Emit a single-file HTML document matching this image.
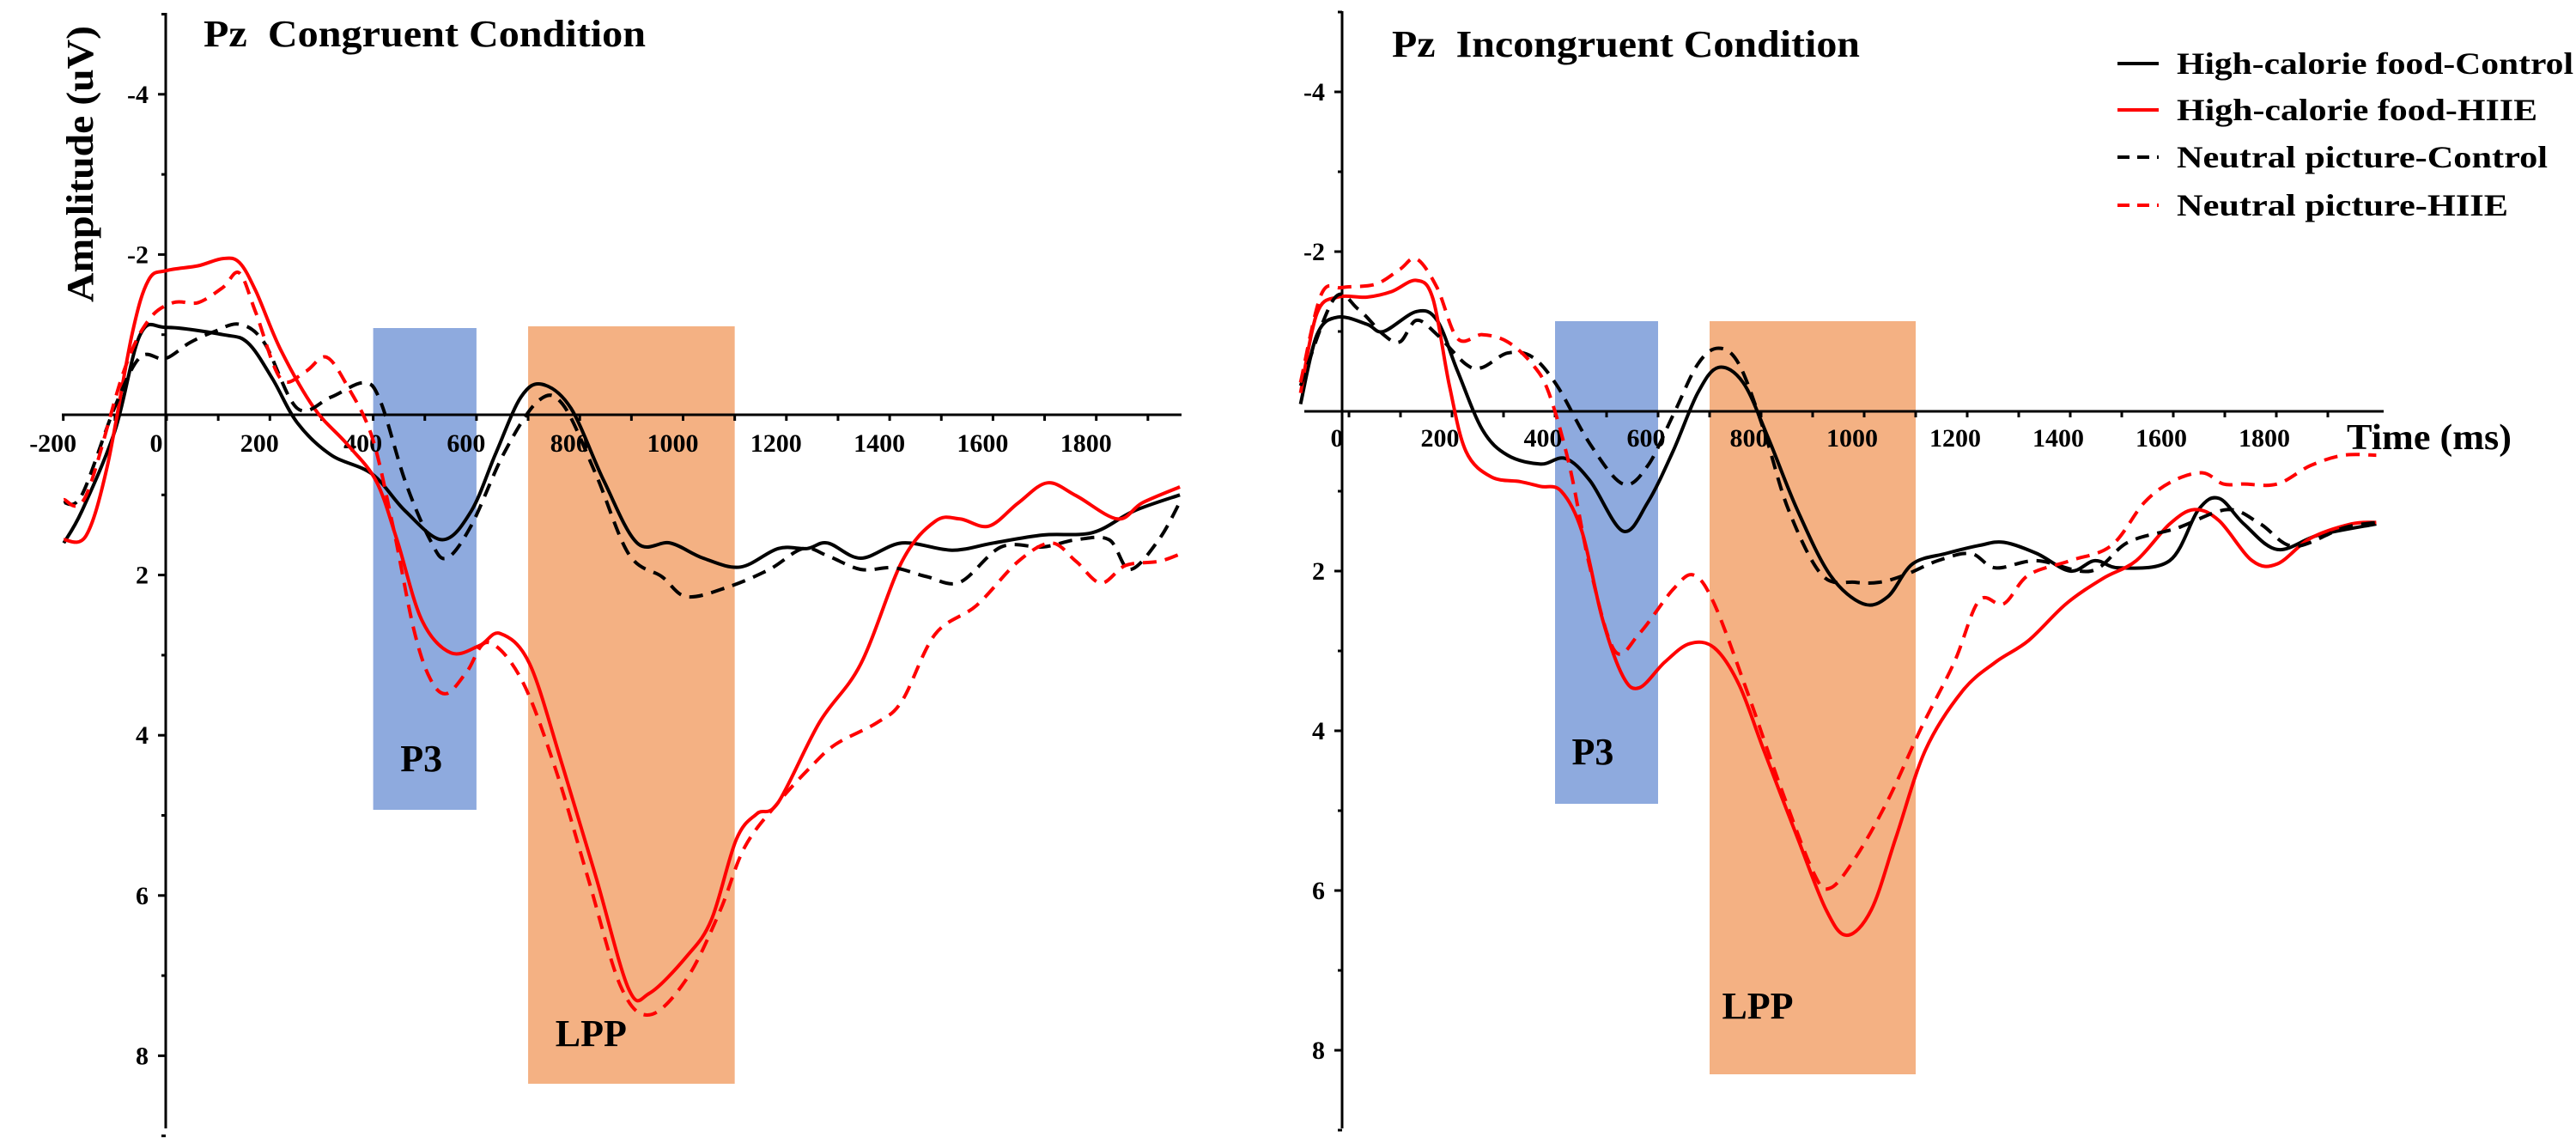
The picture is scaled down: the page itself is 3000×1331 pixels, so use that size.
<!DOCTYPE html>
<html><head><meta charset="utf-8"><style>
html,body{margin:0;padding:0;background:#fff;}
svg{display:block;}
text{font-family:"Liberation Serif",serif;font-weight:bold;fill:#000;white-space:pre;}
</style></head><body>
<svg id="chart" width="3000" height="1331" viewBox="0 0 3000 1331" xmlns="http://www.w3.org/2000/svg" xml:space="preserve"></svg>
<script>
// ---------- data ----------
const yTicks = [-4, -2, 2, 4, 6, 8];
const xTicksLeft = [-200, 0, 200, 400, 600, 800, 1000, 1200, 1400, 1600, 1800];
const xTicksRight = [0, 200, 400, 600, 800, 1000, 1200, 1400, 1600, 1800];
const windowsMs = [[400, 600], [700, 1100]];
const windowNames = ["P3", "LPP"];
const seriesNames = ["High-calorie food-Control", "High-calorie food-HIIE", "Neutral picture-Control", "Neutral picture-HIIE"];

// Congruent (left)
const cHCCtrlT = [-199,-164,-100,-51,0,109,157,205,253,318,398,462,534,590,638,686,727,783,847,911,975,1039,1111,1184,1240,1280,1344,1424,1521,1601,1697,1793,1873,1962];
const cHCCtrlV = [1.6,1.2,0.2,-1.0,-1.09,-1.0,-0.9,-0.45,0.1,0.5,0.74,1.2,1.56,1.2,0.47,-0.22,-0.38,-0.08,0.83,1.6,1.6,1.79,1.9,1.67,1.67,1.6,1.79,1.6,1.69,1.6,1.5,1.47,1.2,1.0];
const cNCtrlT = [-199,-164,-100,-51,-3,45,93,141,189,253,318,382,414,462,510,542,590,654,719,767,831,895,959,1007,1087,1167,1232,1280,1344,1408,1472,1536,1616,1697,1761,1825,1865,1921,1962];
const cNCtrlV = [1.1,1.0,-0.1,-0.72,-0.7,-0.9,-1.04,-1.13,-0.9,-0.08,-0.22,-0.4,-0.17,0.83,1.56,1.79,1.38,0.47,-0.17,-0.13,0.74,1.74,2.02,2.27,2.15,1.93,1.67,1.76,1.93,1.91,2.02,2.09,1.65,1.65,1.56,1.56,1.93,1.56,1.09];
const cHCHiieT = [-199,-156,-115,-67,-35,0,61,109,141,173,221,286,350,406,446,494,550,606,646,703,767,831,895,935,1007,1055,1103,1143,1184,1264,1344,1424,1488,1536,1592,1649,1705,1761,1841,1889,1962];
const cHCHiieV = [1.56,1.51,0.65,-1.0,-1.68,-1.8,-1.86,-1.95,-1.9,-1.54,-0.81,-0.08,0.37,0.83,1.56,2.56,2.97,2.88,2.73,3.11,4.39,5.76,7.17,7.22,6.76,6.3,5.3,4.98,4.84,3.84,3.11,1.83,1.33,1.3,1.39,1.1,0.85,1.01,1.3,1.1,0.9];
const cNHiieT = [-199,-156,-83,-35,13,61,109,141,173,221,269,309,350,398,438,478,510,542,582,622,686,751,815,879,935,1007,1071,1119,1184,1248,1296,1376,1424,1488,1568,1649,1713,1761,1809,1857,1921,1962];
const cNHiieV = [1.06,1.01,-0.54,-1.18,-1.4,-1.4,-1.59,-1.77,-1.27,-0.45,-0.54,-0.72,-0.36,0.28,1.38,2.66,3.29,3.48,3.2,2.84,3.29,4.38,5.76,7.13,7.49,7.04,6.2,5.4,4.84,4.39,4.11,3.84,3.57,2.74,2.38,1.83,1.6,1.83,2.1,1.88,1.83,1.74];

// Incongruent (right)
const iHCCtrlT = [-94,-62,-22,35,67,131,171,211,259,308,372,420,468,532,580,629,677,717,765,813,870,934,998,1046,1094,1159,1223,1271,1335,1400,1448,1496,1593,1649,1689,1737,1802,1882,1994];
const iHCCtrlV = [-0.09,-0.96,-1.18,-1.09,-1.0,-1.25,-1.14,-0.5,0.23,0.55,0.66,0.59,0.87,1.5,1.14,0.5,-0.23,-0.55,-0.36,0.32,1.23,2.05,2.41,2.32,1.91,1.78,1.68,1.64,1.78,2.0,1.87,1.96,1.87,1.23,1.09,1.41,1.73,1.55,1.41];
const iNCtrlT = [-94,-29,18,67,99,131,171,227,259,308,356,404,468,532,580,629,677,717,757,805,853,918,982,1030,1079,1143,1207,1255,1335,1440,1512,1608,1705,1769,1834,1930,1994];
const iNCtrlV = [-0.32,-1.41,-1.28,-0.96,-0.87,-1.14,-0.96,-0.59,-0.55,-0.73,-0.68,-0.32,0.41,0.91,0.68,0.05,-0.59,-0.79,-0.59,0.23,1.23,2.05,2.14,2.14,2.05,1.87,1.78,1.96,1.87,2.0,1.64,1.46,1.23,1.41,1.69,1.46,1.39];
const iHCHiieT = [-94,-62,-22,35,83,131,163,195,227,276,332,372,412,452,492,532,564,613,661,709,757,805,870,926,966,1014,1062,1119,1191,1255,1319,1392,1464,1528,1593,1641,1689,1753,1802,1866,1946,1994];
const iHCHiieV = [-0.23,-1.23,-1.43,-1.43,-1.5,-1.64,-1.41,-0.32,0.5,0.82,0.88,0.94,1.0,1.5,2.6,3.32,3.46,3.14,2.91,2.96,3.42,4.24,5.33,6.24,6.56,6.24,5.33,4.24,3.5,3.14,2.87,2.41,2.09,1.87,1.41,1.23,1.37,1.87,1.91,1.59,1.41,1.39];
const iNHiieT = [-94,-54,-14,51,99,131,171,211,259,308,356,388,428,468,516,564,629,669,709,773,837,902,934,982,1046,1111,1175,1223,1271,1319,1400,1480,1544,1600,1657,1697,1737,1802,1866,1930,1994];
const iNHiieV = [-0.36,-1.46,-1.55,-1.59,-1.78,-1.91,-1.55,-0.91,-0.96,-0.87,-0.59,-0.23,0.68,1.96,3.0,2.78,2.23,2.05,2.41,3.51,4.69,5.78,5.97,5.6,4.87,3.96,3.14,2.37,2.41,2.05,1.87,1.68,1.14,0.87,0.77,0.91,0.91,0.91,0.68,0.55,0.55];

// ---------- drawing ----------
const NS = "http://www.w3.org/2000/svg";
const svg = document.getElementById("chart");
function mk(tag, attrs, parent) {
  const e = document.createElementNS(NS, tag);
  for (const k in attrs) e.setAttribute(k, attrs[k]);
  (parent || svg).appendChild(e);
  return e;
}
function smoothPath(pts) {
  let d = "M" + pts[0][0].toFixed(1) + "," + pts[0][1].toFixed(1);
  for (let i = 0; i < pts.length - 1; i++) {
    const p0 = pts[Math.max(0, i - 1)], p1 = pts[i], p2 = pts[i + 1], p3 = pts[Math.min(pts.length - 1, i + 2)];
    const c1x = p1[0] + (p2[0] - p0[0]) / 6, c1y = p1[1] + (p2[1] - p0[1]) / 6;
    const c2x = p2[0] - (p3[0] - p1[0]) / 6, c2y = p2[1] - (p3[1] - p1[1]) / 6;
    d += "C" + c1x.toFixed(1) + "," + c1y.toFixed(1) + " " + c2x.toFixed(1) + "," + c2y.toFixed(1) + " " + p2[0].toFixed(1) + "," + p2[1].toFixed(1);
  }
  return d;
}

function drawPanel(cfg) {
  const g = mk("g", {});
  
  
  const X = t => cfg.x0 + t * cfg.pxPerMs;
  const Y = v => cfg.y0 + v * cfg.pxPerUnit;

  const colors = ["#8eaade", "#f4b183"];
  windowsMs.forEach((w, i) => {
    const r = mk("rect", {x: X(w[0]), y: cfg.winTop[i], width: X(w[1]) - X(w[0]), height: cfg.winBot[i] - cfg.winTop[i], fill: colors[i]}, g);
    
    
    const t = mk("text", {x: (X(w[0]) + X(w[1])) / 2 + cfg.labOff[i][0], y: cfg.labY[i], "font-size": 44, "text-anchor": "middle"}, g);
    t.textContent = windowNames[i];
    
    
  });

  const xa = mk("line", {x1: cfg.xAxisFrom, x2: cfg.xAxisTo, y1: Y(0), y2: Y(0), stroke: "#000", "stroke-width": 3}, g);
  
  
  const ya = mk("line", {x1: cfg.yAxisX, x2: cfg.yAxisX, y1: cfg.yTop, y2: cfg.yBot, stroke: "#000", "stroke-width": 3}, g);
  
  

  for (let v = -5; v <= 9; v++) {
    if (v === 0) continue;
    const major = v % 2 === 0;
    mk("line", {x1: cfg.yAxisX - (major ? 9 : 5), x2: cfg.yAxisX, y1: Y(v), y2: Y(v), stroke: "#000", "stroke-width": 3}, g);
  }
  yTicks.forEach(v => {
    const t = mk("text", {x: cfg.yAxisX - 20, y: Y(v) + 10, "font-size": 30, "text-anchor": "end"}, g);
    t.textContent = String(v);
    
    
  });
  for (let t = cfg.tickFrom; t <= 1900; t += 100) {
    mk("line", {x1: X(t), x2: X(t), y1: Y(0), y2: Y(0) + 7, stroke: "#000", "stroke-width": 3}, g);
  }
  cfg.xTicks.forEach(v => {
    const t = mk("text", {x: X(v) + cfg.xLabOff, y: cfg.xLabY, "font-size": 30, "text-anchor": "middle"}, g);
    t.textContent = String(v);
    
    
  });

  const styles = [["#000", ""], ["#ff0000", ""], ["#000", "16 10"], ["#ff0000", "16 10"]];
  cfg.series.forEach((s, i) => {
    const pts = s[0].map((t, k) => [X(t), Y(s[1][k])]);
    const p = mk("path", {d: smoothPath(pts), fill: "none", stroke: styles[i][0], "stroke-width": 4, "stroke-linejoin": "round"}, g);
    if (styles[i][1]) p.setAttribute("stroke-dasharray", styles[i][1]);
    
    
  });

  const tt = mk("text", {x: cfg.titleX, y: cfg.titleY, "font-size": 44, textLength: cfg.titleLen, lengthAdjust: "spacingAndGlyphs"}, g);
  tt.textContent = cfg.title;
  
  
}

drawPanel({
  name: "congruent-panel", title: "Pz  Congruent Condition", titleX: 237, titleY: 54, titleLen: 515,
  x0: 194, pxPerMs: 0.6015, y0: 483, pxPerUnit: 93.3,
  xAxisFrom: 72, xAxisTo: 1376, yAxisX: 193, yTop: 15, yBot: 1314,
  winTop: [382, 380], winBot: [943, 1262], labY: [898, 1218], labOff: [[-4, 0], [-47, 0]],
  xTicks: xTicksLeft, xLabOff: -12, xLabY: 526, tickFrom: -200,
  series: [[cHCCtrlT, cHCCtrlV], [cHCHiieT, cHCHiieV], [cNCtrlT, cNCtrlV], [cNHiieT, cNHiieV]]
});
drawPanel({
  name: "incongruent-panel", title: "Pz  Incongruent Condition", titleX: 1621, titleY: 66, titleLen: 545,
  x0: 1571, pxPerMs: 0.6, y0: 479, pxPerUnit: 93,
  xAxisFrom: 1519, xAxisTo: 2776, yAxisX: 1563, yTop: 13, yBot: 1314,
  winTop: [374, 374], winBot: [936, 1251], labY: [890, 1186], labOff: [[-16, 0], [-64, 0]],
  xTicks: xTicksRight, xLabOff: -14, xLabY: 520, tickFrom: 0,
  series: [[iHCCtrlT, iHCCtrlV], [iHCHiieT, iHCHiieV], [iNCtrlT, iNCtrlV], [iNHiieT, iNHiieV]]
});

const yt = mk("text", {x: 0, y: 0, "font-size": 44, "text-anchor": "middle", transform: "translate(108,191) rotate(-90)", textLength: 322, lengthAdjust: "spacingAndGlyphs"});
yt.textContent = "Amplitude (uV)";


const xt = mk("text", {x: 2733, y: 523, "font-size": 42, textLength: 192, lengthAdjust: "spacingAndGlyphs"});
xt.textContent = "Time (ms)";



const legRows = [74, 128, 183, 239];
const legStyles = [["#000", ""], ["#ff0000", ""], ["#000", "14 9"], ["#ff0000", "14 9"]];
const legLens = [462, 420, 432, 386];
const legend = mk("g", {});


seriesNames.forEach((n, i) => {
  const entry = mk("g", {}, legend);
  
  
  const l = mk("line", {x1: 2466, x2: 2514, y1: legRows[i], y2: legRows[i], stroke: legStyles[i][0], "stroke-width": 4}, entry);
  if (legStyles[i][1]) l.setAttribute("stroke-dasharray", legStyles[i][1]);
  const t = mk("text", {x: 2535, y: legRows[i] + 12, "font-size": 36, textLength: legLens[i], lengthAdjust: "spacingAndGlyphs"}, entry);
  t.textContent = n;
});
</script>
</body></html>
